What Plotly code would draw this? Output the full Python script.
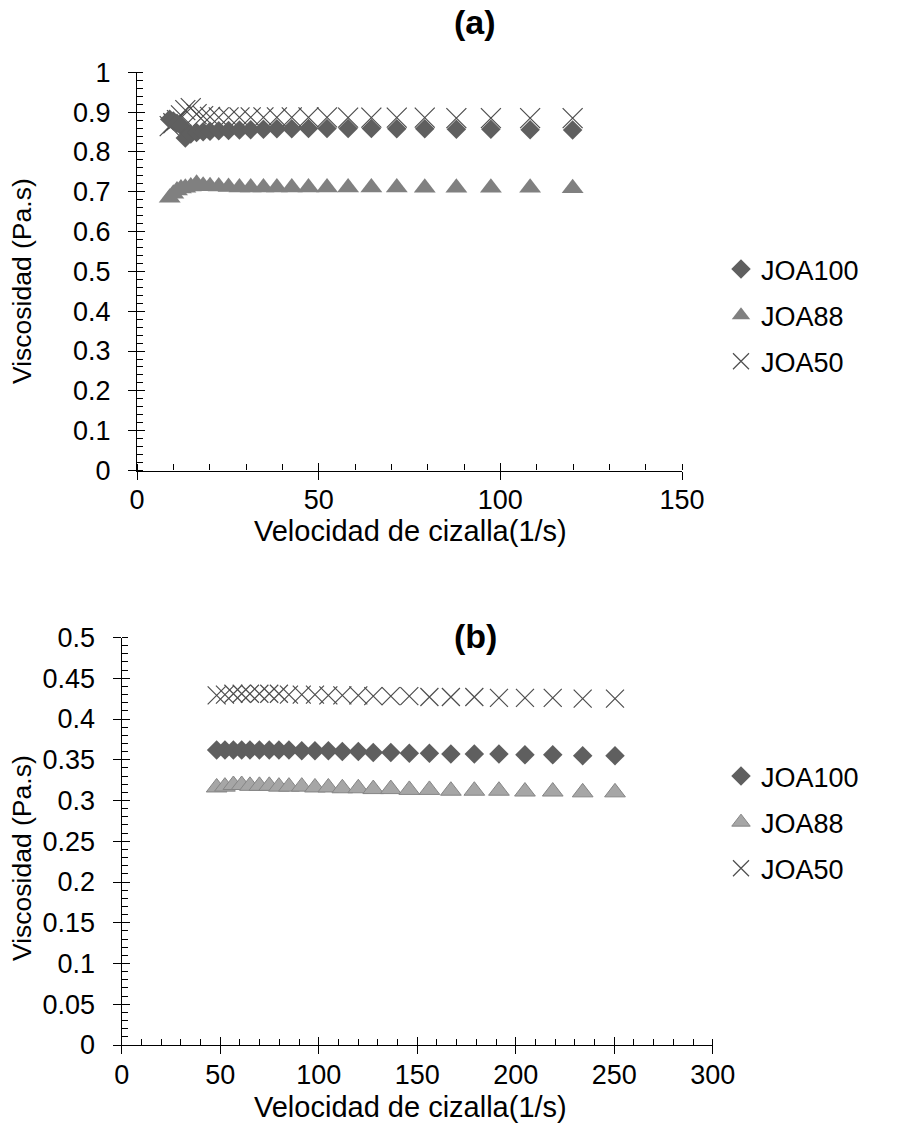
import plotly.graph_objects as go

# ---------------- data: chart (a) ----------------
shear_a = [9.0, 10.0, 11.0, 12.1, 13.3, 14.8, 16.4, 18.2, 20.1, 22.5, 25.2, 28.2, 31.3,
           34.8, 38.5, 42.6, 47.2, 52.3, 58.1, 64.5, 71.5, 79.2, 87.9, 97.4, 108.2, 119.9]
joa100_a = [0.882, 0.878, 0.872, 0.866, 0.835, 0.845, 0.849, 0.851, 0.852, 0.853, 0.854, 0.855, 0.856,
            0.857, 0.858, 0.858, 0.859, 0.859, 0.859, 0.859, 0.858, 0.858, 0.857, 0.857, 0.856, 0.855]
joa88_a = [0.685, 0.695, 0.703, 0.708, 0.710, 0.713, 0.720, 0.715, 0.714, 0.713, 0.712, 0.711, 0.711,
           0.711, 0.711, 0.711, 0.711, 0.711, 0.711, 0.711, 0.711, 0.710, 0.710, 0.710, 0.710, 0.709]
joa50_a = [0.865, 0.872, 0.880, 0.892, 0.905, 0.910, 0.895, 0.890, 0.888, 0.887, 0.887, 0.887, 0.887,
           0.887, 0.887, 0.887, 0.887, 0.887, 0.886, 0.886, 0.886, 0.886, 0.885, 0.885, 0.885, 0.885]

# ---------------- data: chart (b) ----------------
shear_b = [48.2, 52.4, 56.7, 60.9, 65.1, 69.9, 74.9, 79.8, 84.9, 91.4, 98.1, 104.9, 112.0,
           120.1, 127.7, 136.6, 146.0, 156.2, 167.1, 179.0, 191.5, 204.7, 218.8, 234.0, 250.4]
joa100_b = [0.362, 0.362, 0.362, 0.362, 0.362, 0.362, 0.362, 0.362, 0.362, 0.361, 0.361, 0.361, 0.360,
            0.360, 0.359, 0.359, 0.358, 0.358, 0.357, 0.357, 0.357, 0.356, 0.356, 0.355, 0.355]
joa88_b = [0.316, 0.317, 0.319, 0.319, 0.318, 0.318, 0.318, 0.317, 0.317, 0.317, 0.316, 0.316, 0.315,
           0.315, 0.314, 0.314, 0.313, 0.313, 0.312, 0.312, 0.312, 0.311, 0.311, 0.310, 0.310]
joa50_b = [0.429, 0.430, 0.431, 0.431, 0.431, 0.431, 0.431, 0.431, 0.430, 0.430, 0.430, 0.429, 0.429,
           0.429, 0.428, 0.428, 0.428, 0.427, 0.427, 0.427, 0.426, 0.426, 0.426, 0.425, 0.425]

series_names = ["JOA100", "JOA88", "JOA50"]

xticks_a = [0, 50, 100, 150]
yticks_a = [0, 0.1, 0.2, 0.3, 0.4, 0.5, 0.6, 0.7, 0.8, 0.9, 1]
yticklabels_a = ["0", "0.1", "0.2", "0.3", "0.4", "0.5", "0.6", "0.7", "0.8", "0.9", "1"]
xticks_b = [0, 50, 100, 150, 200, 250, 300]
yticks_b = [0, 0.05, 0.1, 0.15, 0.2, 0.25, 0.3, 0.35, 0.4, 0.45, 0.5]
yticklabels_b = ["0", "0.05", "0.1", "0.15", "0.2", "0.25", "0.3", "0.35", "0.4", "0.45", "0.5"]

x_title = "Velocidad de cizalla(1/s)"
y_title = "Viscosidad (Pa.s)"

# ---------------- layout geometry ----------------
W, H = 901, 1132
FONT = "Liberation Sans, Arial, sans-serif"

def px_x(p):
    return p / W

def px_y(p):
    return 1 - p / H

dom_ax = [px_x(137), px_x(682)]
dom_ay = [px_y(470.5), px_y(72.3)]
dom_bx = [px_x(121.7), px_x(712.7)]
dom_by = [px_y(1045), px_y(637.5)]

C_DIAM = "#5f5f5f"
C_TRI_A = "#808080"
C_TRI_B = "#a6a6a6"
C_X = "#4d4d4d"

fig = go.Figure()

def add_series(x, y100, y88, y50, xa, ya, leg, tri_col, tri_line, dsize, tsize, xsize):
    # crosses first so diamonds sit on top of them, as in the reference
    fig.add_trace(go.Scatter(
        x=x, y=y50, mode="markers", name=series_names[2], xaxis=xa, yaxis=ya,
        legend=leg, legendgroup=leg + "c", legendrank=3,
        marker=dict(symbol="x-thin", size=xsize, color=C_X, line=dict(width=1.2, color=C_X))))
    fig.add_trace(go.Scatter(
        x=x, y=y88, mode="markers", name=series_names[1], xaxis=xa, yaxis=ya,
        legend=leg, legendgroup=leg + "b", legendrank=2,
        marker=dict(symbol="triangle-up", size=tsize, color=tri_col,
                    line=dict(width=1 if tri_line else 0, color=tri_line or tri_col))))
    fig.add_trace(go.Scatter(
        x=x, y=y100, mode="markers", name=series_names[0], xaxis=xa, yaxis=ya,
        legend=leg, legendgroup=leg + "a", legendrank=1,
        marker=dict(symbol="diamond", size=dsize, color=C_DIAM, line=dict(width=0))))

add_series(shear_a, joa100_a, joa88_a, joa50_a, "x", "y", "legend", C_TRI_A, None, 15, 19, 20)
add_series(shear_b, joa100_b, joa88_b, joa50_b, "x2", "y2", "legend2", C_TRI_B, "#858585", 15, 18, 18)

# empty traces so that the overlay tick axes exist
fig.add_trace(go.Scatter(x=[], y=[], xaxis="x3", yaxis="y3", showlegend=False, hoverinfo="skip"))
fig.add_trace(go.Scatter(x=[], y=[], xaxis="x4", yaxis="y4", showlegend=False, hoverinfo="skip"))

TS = 27
tickfont = dict(family=FONT, size=TS, color="black")
common = dict(showgrid=False, zeroline=False, showline=True, linecolor="black", linewidth=1.3,
              tickcolor="black", tickwidth=1.3, tickfont=tickfont, fixedrange=True, automargin=False)
overlay = dict(tickcolor="black", tickwidth=1.3, showticklabels=False, showline=False,
               showgrid=False, zeroline=False, fixedrange=True, automargin=False, ticks="inside", ticklen=8)

legend_style = dict(xanchor="left", yanchor="top",
                    font=dict(family=FONT, size=TS, color="black"), bgcolor="rgba(0,0,0,0)",
                    traceorder="grouped", tracegroupgap=8, itemwidth=30)

fig.update_layout(
    width=W, height=H, margin=dict(l=0, r=0, t=0, b=0, pad=0, autoexpand=False),
    paper_bgcolor="white", plot_bgcolor="white",
    font=dict(family=FONT, size=TS, color="black"),
    xaxis=dict(domain=dom_ax, anchor="y", range=[0, 150], tickvals=xticks_a, ticks="outside", ticklen=8,
               ticklabelstandoff=-3,
               minor=dict(ticks="inside", ticklen=6, dtick=10, tickcolor="black", tickwidth=1.2),
               **common),
    yaxis=dict(domain=dom_ay, anchor="x", range=[0, 1], tickvals=yticks_a, ticktext=yticklabels_a,
               ticks="outside", ticklen=8, ticklabelstandoff=12,
               minor=dict(ticks="inside", ticklen=6, dtick=0.02, tickcolor="black", tickwidth=1.2),
               **common),
    xaxis2=dict(domain=dom_bx, anchor="y2", range=[0, 300], tickvals=xticks_b, ticks="outside", ticklen=8,
                ticklabelstandoff=-3,
                minor=dict(ticks="inside", ticklen=6, dtick=10, tickcolor="black", tickwidth=1.2),
                **common),
    yaxis2=dict(domain=dom_by, anchor="x2", range=[0, 0.5], tickvals=yticks_b, ticktext=yticklabels_b,
                ticks="outside", ticklen=8, ticklabelstandoff=12,
                minor=dict(ticks="inside", ticklen=6, dtick=0.01, tickcolor="black", tickwidth=1.2),
                **common),
    xaxis3=dict(overlaying="x", anchor="y", range=[0, 150], tickvals=xticks_a, **overlay),
    yaxis3=dict(overlaying="y", anchor="x", range=[0, 1], tickvals=yticks_a, **overlay),
    xaxis4=dict(overlaying="x2", anchor="y2", range=[0, 300], tickvals=xticks_b, **overlay),
    yaxis4=dict(overlaying="y2", anchor="x2", range=[0, 0.5], tickvals=yticks_b, **overlay),
    legend=dict(x=px_x(721), y=px_y(245), **legend_style),
    legend2=dict(x=px_x(721), y=px_y(752), **legend_style),
    showlegend=True,
)

annots = [
    dict(text="<b>(a)</b>", x=px_x(475), y=px_y(22), font=dict(family=FONT, size=34)),
    dict(text="<b>(b)</b>", x=px_x(475), y=px_y(636), font=dict(family=FONT, size=34)),
    dict(text=x_title, x=px_x(410), y=px_y(531), font=dict(family=FONT, size=29)),
    dict(text=x_title, x=px_x(410), y=px_y(1107), font=dict(family=FONT, size=29)),
    dict(text=y_title, x=px_x(22), y=px_y(281), textangle=-90, font=dict(family=FONT, size=26.5)),
    dict(text=y_title, x=px_x(22), y=px_y(858), textangle=-90, font=dict(family=FONT, size=26.5)),
]
for a in annots:
    fig.add_annotation(xref="paper", yref="paper", showarrow=False, xanchor="center", yanchor="middle", **a)

fig.write_html("out.html")
